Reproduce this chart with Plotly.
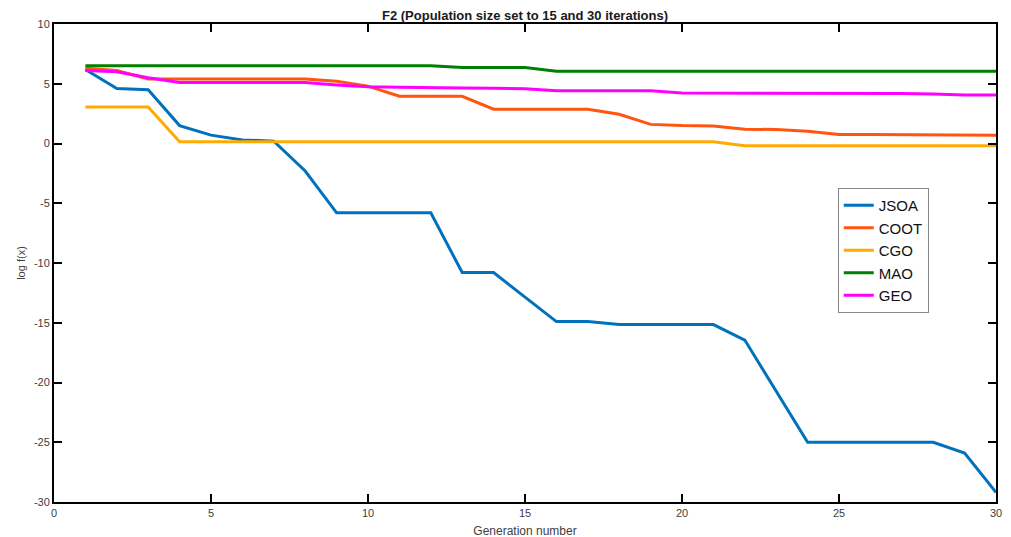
import plotly.graph_objects as go

generations = list(range(1, 31))
jsoa = [6.2, 4.6, 4.5, 1.5, 0.7, 0.3, 0.2, -2.3, -5.8, -5.8, -5.8, -5.8, -10.8, -10.8, -12.85,
        -14.9, -14.9, -15.15, -15.15, -15.15, -15.15, -16.45, -20.7, -25.0, -25.0, -25.0, -25.0,
        -25.0, -25.9, -29.2]
coot = [6.3, 6.1, 5.4, 5.4, 5.4, 5.4, 5.4, 5.4, 5.2, 4.8, 3.95, 3.95, 3.95, 2.87, 2.87, 2.87,
        2.87, 2.45, 1.6, 1.5, 1.47, 1.2, 1.17, 1.03, 0.75, 0.75, 0.75, 0.74, 0.72, 0.7]
cgo = [3.05, 3.05, 3.05, 0.15, 0.15, 0.15, 0.15, 0.15, 0.15, 0.15, 0.15, 0.15, 0.15, 0.15, 0.15,
       0.15, 0.15, 0.15, 0.15, 0.15, 0.15, -0.18, -0.18, -0.18, -0.18, -0.18, -0.18, -0.18, -0.18, -0.18]
mao = [6.5] * 12 + [6.35, 6.35, 6.35] + [6.05] * 15
geo = [6.1, 6.0, 5.5, 5.1, 5.1, 5.1, 5.1, 5.1, 4.9, 4.75, 4.7, 4.7, 4.65, 4.62, 4.58, 4.42, 4.42,
       4.42, 4.42, 4.22, 4.22, 4.22, 4.22, 4.2, 4.2, 4.2, 4.18, 4.15, 4.05, 4.05]

series = [("JSOA", jsoa, "#0072BD"), ("COOT", coot, "#FF5511"), ("CGO", cgo, "#FFAA00"),
          ("MAO", mao, "#008000"), ("GEO", geo, "#FF00FF")]

x_ticks = [0, 5, 10, 15, 20, 25, 30]
y_ticks = [10, 5, 0, -5, -10, -15, -20, -25, -30]
y_tick_text = ["10", "5", "0", "-5", "-10", "-15", "-20", "-25", "-30"]

fig = go.Figure()
for name, vals, color in series:
    fig.add_trace(go.Scatter(x=generations, y=vals, mode="lines", name=name,
                             line=dict(color=color, width=3)))

axis_common = dict(showline=True, linewidth=2, linecolor="black", mirror="ticks",
                   ticks="inside", ticklen=8, tickwidth=2, tickcolor="black",
                   showgrid=False, zeroline=False, automargin=False,
                   tickfont=dict(size=11, color="#404040", family="Liberation Sans, Arial"))

fig.update_layout(
    width=1011, height=537,
    margin=dict(l=46, r=23, t=16, b=43, autoexpand=False),
    paper_bgcolor="white", plot_bgcolor="white",
    font=dict(family="Liberation Sans, Arial", color="#262626"),
    title=dict(text="<b>F2 (Population size set to 15 and 30 iterations)</b>",
               x=0.5, xref="paper", xanchor="center", y=0.986, yanchor="middle",
               font=dict(size=13, color="#1a1a1a")),
    xaxis=dict(range=[0, 30], tickvals=x_ticks,
               title=dict(text="Generation number", standoff=8,
                          font=dict(size=12, color="#404040")), **axis_common),
    yaxis=dict(range=[-30, 10], tickvals=y_ticks, ticktext=y_tick_text,
               title=dict(text="log f(x)", standoff=6,
                          font=dict(size=11, color="#404040")), **axis_common),
    legend=dict(x=0.832, y=0.657, xanchor="left", yanchor="top",
                bgcolor="white", bordercolor="#888888", borderwidth=1,
                font=dict(size=15, color="#111111"), tracegroupgap=0,
                itemwidth=30),
    showlegend=True,
)

fig.write_html("out.html")
